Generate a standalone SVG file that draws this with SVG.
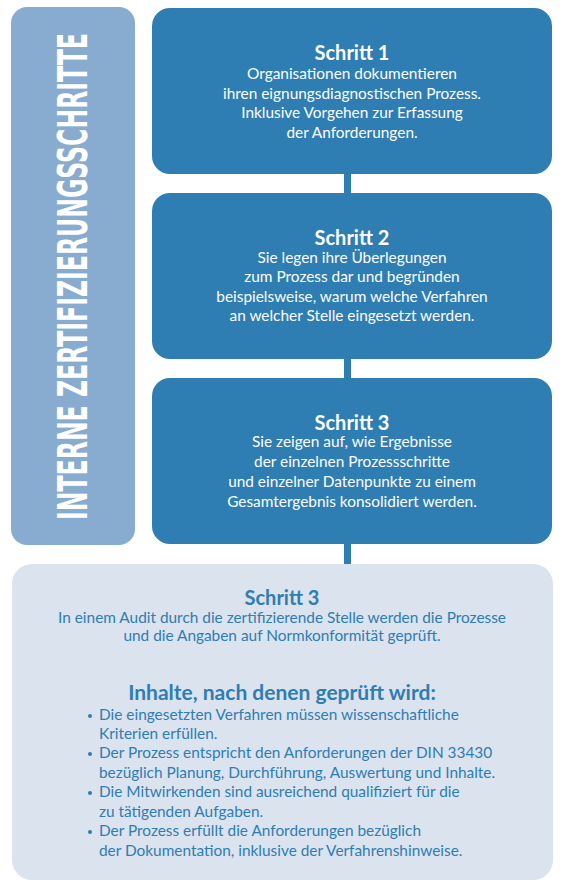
<svg xmlns="http://www.w3.org/2000/svg" width="565" height="891" viewBox="0 0 565 891">
<style>
.step{fill:#2e7db3}
.t{font-family:Lato,"Open Sans",sans-serif;text-anchor:middle;fill:#fff}
.h{font-size:20px;font-weight:bold}
.b{font-size:15.4px}
.bt{font-family:Lato,"Open Sans",sans-serif;fill:#2e7db3}
</style>
<rect width="565" height="891" fill="#fff"/>
<g id="banner">
<rect x="11" y="7" width="124" height="538" rx="16" fill="#87acd0"/>
<text transform="translate(87,276.5) rotate(-90)" text-anchor="middle" font-family="'DejaVu Sans Condensed','Liberation Sans',sans-serif" font-weight="bold" font-size="41" fill="#fff" textLength="487" lengthAdjust="spacingAndGlyphs">INTERNE ZERTIFIZIERUNGSSCHRITTE</text>
</g>
<g id="connectors">
<rect class="step" x="344" y="174" width="7" height="19"/>
<rect class="step" x="344" y="359" width="7" height="19"/>
<rect class="step" x="344" y="544" width="7" height="20"/>
</g>
<g id="step1">
<rect class="step" x="152" y="8" width="400" height="166" rx="18"/>
<text class="t h" x="352" y="60">Schritt 1</text>
<text class="t b" x="352" y="79">Organisationen dokumentieren</text>
<text class="t b" x="352" y="99">ihren eignungsdiagnostischen Prozess.</text>
<text class="t b" x="352" y="118">Inklusive Vorgehen zur Erfassung</text>
<text class="t b" x="352" y="138">der Anforderungen.</text>
</g>
<g id="step2">
<rect class="step" x="152" y="193" width="400" height="166" rx="18"/>
<text class="t h" x="352" y="245">Schritt 2</text>
<text class="t b" x="352" y="263">Sie legen ihre Überlegungen</text>
<text class="t b" x="352" y="282">zum Prozess dar und begründen</text>
<text class="t b" x="352" y="302">beispielsweise, warum welche Verfahren</text>
<text class="t b" x="352" y="321">an welcher Stelle eingesetzt werden.</text>
</g>
<g id="step3">
<rect class="step" x="152" y="378" width="400" height="166" rx="18"/>
<text class="t h" x="352" y="430">Schritt 3</text>
<text class="t b" x="352" y="447">Sie zeigen auf, wie Ergebnisse</text>
<text class="t b" x="352" y="467">der einzelnen Prozessschritte</text>
<text class="t b" x="352" y="487">und einzelner Datenpunkte zu einem</text>
<text class="t b" x="352" y="507">Gesamtergebnis konsolidiert werden.</text>
</g>
<g id="audit">
<rect x="12" y="564" width="541" height="316" rx="20" fill="#dbe3ef"/>
<text class="bt" x="282" y="605" text-anchor="middle" font-size="20" font-weight="bold">Schritt 3</text>
<text class="bt" x="282" y="623" text-anchor="middle" font-size="15.4">In einem Audit durch die zertifizierende Stelle werden die Prozesse</text>
<text class="bt" x="282" y="641" text-anchor="middle" font-size="15.4">und die Angaben auf Normkonformität geprüft.</text>
<text class="bt" x="282" y="700" text-anchor="middle" font-size="21" font-weight="bold">Inhalte, nach denen geprüft wird:</text>
<g font-size="15.4">
<circle cx="90" cy="716" r="2" fill="#2e7db3"/>
<text class="bt" x="99" y="720">Die eingesetzten Verfahren müssen wissenschaftliche</text>
<text class="bt" x="99" y="739">Kriterien erfüllen.</text>
<circle cx="90" cy="754" r="2" fill="#2e7db3"/>
<text class="bt" x="99" y="758">Der Prozess entspricht den Anforderungen der DIN 33430</text>
<text class="bt" x="99" y="778">bezüglich Planung, Durchführung, Auswertung und Inhalte.</text>
<circle cx="90" cy="793" r="2" fill="#2e7db3"/>
<text class="bt" x="99" y="797">Die Mitwirkenden sind ausreichend qualifiziert für die</text>
<text class="bt" x="99" y="817">zu tätigenden Aufgaben.</text>
<circle cx="90" cy="832" r="2" fill="#2e7db3"/>
<text class="bt" x="99" y="836">Der Prozess erfüllt die Anforderungen bezüglich</text>
<text class="bt" x="99" y="856">der Dokumentation, inklusive der Verfahrenshinweise.</text>
</g>
</g>
</svg>
